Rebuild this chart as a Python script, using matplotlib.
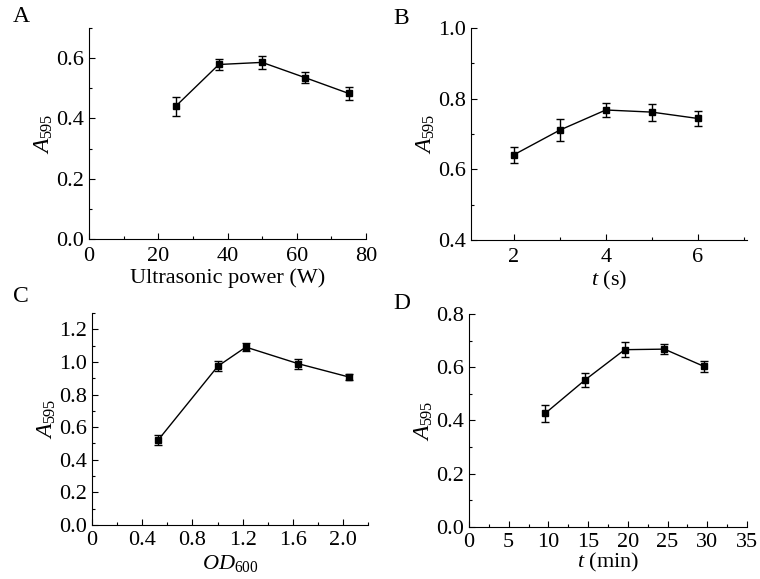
import matplotlib
matplotlib.use("Agg")
import matplotlib.pyplot as plt
from matplotlib.ticker import MultipleLocator, FixedLocator, FixedFormatter

plt.rcParams["font.family"] = "Liberation Serif"
plt.rcParams["mathtext.fontset"] = "custom"
plt.rcParams["mathtext.rm"] = "Liberation Serif"
plt.rcParams["mathtext.it"] = "Liberation Serif:italic"

# panel A - ultrasonic power
power_w = [25, 37.5, 50, 62.5, 75]
a_power = [0.440, 0.579, 0.586, 0.535, 0.483]
err_power = [0.032, 0.019, 0.021, 0.018, 0.021]

# panel B - ultrasonic time (s)
time_s = [2, 3, 4, 5, 6]
a_time_s = [0.641, 0.711, 0.768, 0.762, 0.744]
err_time_s = [0.022, 0.032, 0.021, 0.024, 0.021]

# panel C - cell density
od600 = [0.527, 1.003, 1.226, 1.644, 2.05]
a_od = [0.521, 0.974, 1.091, 0.989, 0.907]
err_od = [0.030, 0.030, 0.027, 0.030, 0.020]

# panel D - incubation time (min)
time_min = [9.6, 14.6, 19.6, 24.6, 29.6]
a_time_min = [0.427, 0.552, 0.666, 0.668, 0.603]
err_time_min = [0.032, 0.025, 0.029, 0.019, 0.021]

ticks_a_x = [0, 20, 40, 60, 80]
ticks_a_y = [0.0, 0.2, 0.4, 0.6]
labels_a_x = ["0", "20", "40", "60", "80"]
labels_a_y = ["0.0", "0.2", "0.4", "0.6"]

ticks_b_x = [2, 4, 6]
ticks_b_y = [0.4, 0.6, 0.8, 1.0]
labels_b_x = ["2", "4", "6"]
labels_b_y = ["0.4", "0.6", "0.8", "1.0"]

ticks_c_x = [0, 0.4, 0.8, 1.2, 1.6, 2.0]
ticks_c_y = [0.0, 0.2, 0.4, 0.6, 0.8, 1.0, 1.2]
labels_c_x = ["0", "0.4", "0.8", "1.2", "1.6", "2.0"]
labels_c_y = ["0.0", "0.2", "0.4", "0.6", "0.8", "1.0", "1.2"]

ticks_d_x = [0, 5, 10, 15, 20, 25, 30, 35]
ticks_d_y = [0.0, 0.2, 0.4, 0.6, 0.8]
labels_d_x = ["0", "5", "10", "15", "20", "25", "30", "35"]
labels_d_y = ["0.0", "0.2", "0.4", "0.6", "0.8"]


def panel(ax, x, y, err, xlim, ylim, xt, xl, yt, yl, xminor, yminor, xlabel,
          xpad=4.3, lpad=2):
    ax.errorbar(x, y, yerr=err, color="black", marker="s", markersize=5,
                linewidth=1, elinewidth=1, capsize=3, capthick=1)
    ax.set_xlim(xlim)
    ax.set_ylim(ylim)
    ax.xaxis.set_major_locator(FixedLocator(xt))
    ax.xaxis.set_major_formatter(FixedFormatter(xl))
    ax.yaxis.set_major_locator(FixedLocator(yt))
    ax.yaxis.set_major_formatter(FixedFormatter(yl))
    ax.xaxis.set_minor_locator(MultipleLocator(xminor))
    ax.yaxis.set_minor_locator(MultipleLocator(yminor))
    for s in ["top", "right"]:
        ax.spines[s].set_visible(False)
    for s in ["left", "bottom"]:
        ax.spines[s].set_linewidth(0.8)
    ax.tick_params(which="both", direction="in", width=0.8, labelsize=16)
    ax.tick_params(which="major", length=4.5)
    ax.tick_params(which="minor", length=2.5)
    ax.tick_params(axis="x", pad=xpad)
    ax.tick_params(axis="y", pad=3.5)
    ax.set_xlabel(xlabel, fontsize=16, labelpad=lpad)
    ax.set_ylabel(r"$A_{595}$", fontsize=17, labelpad=1)


fig = plt.figure(figsize=(7.6, 5.79), dpi=100)
ax1 = fig.add_axes([0.1171, 0.5872, 0.3645, 0.3644])
ax2 = fig.add_axes([0.6197, 0.5855, 0.3632, 0.3661])
ax3 = fig.add_axes([0.1211, 0.0933, 0.3632, 0.3661])
ax4 = fig.add_axes([0.6171, 0.0898, 0.3658, 0.3679])

panel(ax1, power_w, a_power, err_power, (0, 80), (0, 0.7),
      ticks_a_x, labels_a_x, ticks_a_y, labels_a_y, 10, 0.1, "Ultrasonic power (W)",
      xpad=5.5, lpad=2)
panel(ax2, time_s, a_time_s, err_time_s, (1.07, 7.07), (0.4, 1.0),
      ticks_b_x, labels_b_x, ticks_b_y, labels_b_y, 1, 0.1, r"$t$ (s)",
      xpad=6, lpad=1.5)
panel(ax3, od600, a_od, err_od, (0, 2.2), (0, 1.3),
      ticks_c_x, labels_c_x, ticks_c_y, labels_c_y, 0.2, 0.1, r"$OD_{600}$",
      xpad=4.3, lpad=2.5)
panel(ax4, time_min, a_time_min, err_time_min, (0, 35), (0, 0.8),
      ticks_d_x, labels_d_x, ticks_d_y, labels_d_y, 2.5, 0.1, r"$t$ (min)",
      xpad=4.3, lpad=-1)

for letter, px, py in [("A", 13, 6), ("B", 393, 8), ("C", 13, 286), ("D", 393, 293)]:
    fig.text(px / 760, 1 - py / 579, letter, fontsize=17, ha="left", va="top")

fig.savefig("out.png", dpi=100)
